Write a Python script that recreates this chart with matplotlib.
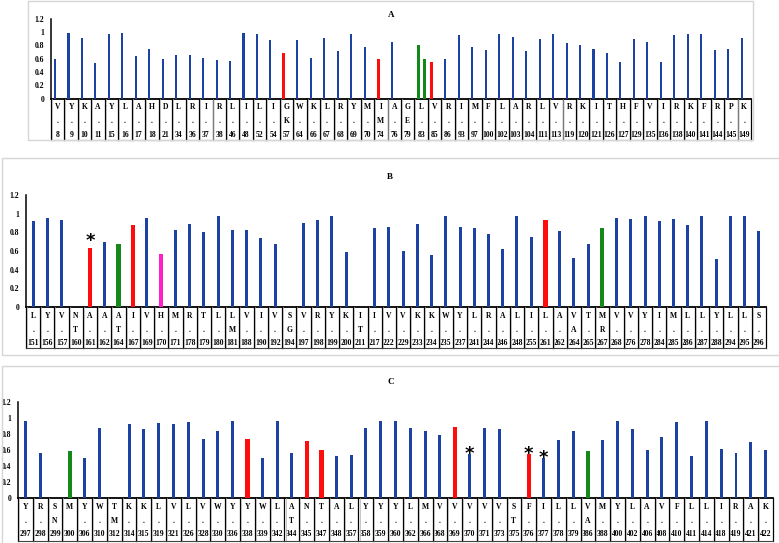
import matplotlib
matplotlib.use("Agg")
import matplotlib.pyplot as plt
from matplotlib.patches import Rectangle
from matplotlib.transforms import blended_transform_factory

# ---------------- data ----------------
a_labels = ['V|.|8', 'Y|.|9', 'K|.|10', 'A|.|11', 'Y|.|15', 'L|.|16', 'A|.|17', 'H|.|18', 'D|.|21',
            'L|.|34', 'R|.|36', 'I|.|37', 'R|.|38', 'L|.|46', 'I|.|48', 'L|.|52', 'I|.|54', 'G|K|57',
            'W|.|64', 'K|.|66', 'L|.|67', 'R|.|68', 'Y|.|69', 'M|.|70', 'I|M|74', 'A|.|76', 'G|E|79',
            'L|.|83', 'V|.|85', 'R|.|86', 'I|.|93', 'M|.|97', 'F|.|100', 'L|.|102', 'A|.|103', 'R|.|104',
            'L|.|111', 'V|.|113', 'R|.|119', 'K|.|120', 'I|.|121', 'T|.|126', 'H|.|127', 'F|.|129',
            'V|.|135', 'I|.|136', 'R|.|138', 'K|.|140', 'F|.|141', 'R|.|144', 'P|.|145', 'K|.|149']
a_values = [0.60, 0.98, 0.905, 0.54, 0.97, 0.98, 0.64, 0.74, 0.60, 0.65, 0.65, 0.61, 0.58, 0.57,
            0.98, 0.975, 0.875, 0.69, 0.875, 0.61, 0.905, 0.72, 0.965, 0.78, 0.59, 0.845, None,
            0.806, 0.55, 0.60, 0.95, 0.77, 0.73, 0.975, 0.92, 0.71, 0.895, 0.97, 0.83, 0.80, 0.74,
            0.68, 0.55, 0.89, 0.855, 0.55, 0.955, 0.97, 0.975, 0.73, 0.75, 0.915]
a_highlight = {'G|K|57': 'red', 'I|M|74': 'red', 'L|.|83': 'green', 'V|.|85': 'red'}
a_extra_labels = ['L|.|83']          # second bar drawn beside the category
a_extra_values = [0.59]
a_extra_colors = ['green']
a_stars = []

b_labels = ['L|.|151', 'Y|.|156', 'V|.|157', 'N|T|160', 'A|.|161', 'A|.|162', 'A|T|164', 'I|.|167',
            'V|.|169', 'H|.|170', 'M|.|171', 'R|.|178', 'T|.|179', 'L|.|180', 'L|M|181', 'V|.|188',
            'I|.|190', 'V|.|192', 'S|G|194', 'V|.|197', 'R|.|198', 'Y|.|199', 'K|.|200', 'I|T|211',
            'I|.|217', 'V|.|222', 'V|.|229', 'K|.|233', 'K|.|234', 'W|.|235', 'Y|.|237', 'L|.|241',
            'R|.|244', 'A|.|246', 'L|.|248', 'I|.|255', 'L|.|261', 'A|.|262', 'V|A|264', 'T|.|265',
            'M|R|267', 'V|.|268', 'V|.|276', 'Y|.|278', 'I|.|284', 'M|.|285', 'L|.|286', 'L|.|287',
            'Y|.|288', 'L|.|294', 'L|.|295', 'S|.|296']
b_values = [0.92, 0.957, 0.93, None, 0.63, 0.70, 0.68, 0.88, 0.95, 0.57, 0.83, 0.89, 0.80, 0.97,
            0.82, 0.82, 0.74, 0.675, None, 0.897, 0.93, 0.98, 0.594, None, 0.85, 0.86,
            0.60, 0.89, 0.56, 0.97, 0.86, 0.845, 0.78, 0.62, 0.97, 0.755, 0.93, 0.81, 0.52, 0.67,
            0.85, 0.957, 0.94, 0.975, 0.92, 0.947, 0.88, 0.97, 0.516, 0.975, 0.975, 0.81]
b_highlight = {'A|.|161': 'red', 'A|T|164': 'green', 'I|.|167': 'red', 'H|.|170': 'magenta',
               'L|.|261': 'red', 'M|R|267': 'green'}
b_stars = ['A|.|161']

c_labels = ['Y|.|297', 'R|.|298', 'S|N|299', 'M||300', 'Y|.|306', 'W|.|310', 'T|M|312', 'K|.|314',
            'K|.|315', 'L|.|319', 'V|.|321', 'L|.|326', 'V|.|328', 'W|.|330', 'Y|.|336', 'Y|.|338',
            'W|.|339', 'L|.|342', 'A|T|344', 'N|.|345', 'T|.|347', 'A|.|348', 'L|.|357', 'Y|.|358',
            'Y|.|359', 'Y|.|360', 'L|.|362', 'M|.|366', 'V|.|368', 'V|.|369', 'V|.|370', 'V|.|371',
            'V|.|373', 'S|T|375', 'F|.|376', 'I|.|377', 'L|.|378', 'L|.|379', 'V|A|386', 'M|.|388',
            'Y|.|400', 'L|.|402', 'A|.|406', 'V|.|408', 'F|.|410', 'L|.|411', 'L|.|414', 'I|.|418',
            'R|.|419', 'A|.|421', 'K|.|422']
c_values = [0.967, 0.56, None, 0.583, 0.50, 0.87, None, 0.92, 0.86, 0.933, 0.925, 0.946, 0.733,
            0.833, 0.967, 0.73, 0.50, 0.967, 0.56, 0.717, 0.596, 0.517, 0.53, 0.88, 0.967, 0.96,
            0.875, 0.84, 0.78, 0.89, 0.546, 0.88, 0.867, None, 0.554, 0.504, 0.72, 0.84, 0.583,
            0.72, 0.967, 0.86, 0.604, 0.76, 0.954, 0.52, 0.958, 0.61, 0.56, 0.70, 0.60]
c_highlight = {'M||300': 'green', 'Y|.|338': 'red', 'N|.|345': 'red', 'T|.|347': 'red',
               'V|.|369': 'red', 'F|.|376': 'red', 'V|A|386': 'green'}
c_stars = ['V|.|370', 'F|.|376', 'I|.|377']

y_ticks = [0, 0.2, 0.4, 0.6, 0.8, 1.0, 1.2]
y_tick_labels = ['0', '0.2', '0.4', '0.6', '0.8', '1', '1.2']

# ---------------- style ----------------
COLORS = {'blue': '#1c43a3', 'red': '#ff0d0d', 'green': '#14891a', 'magenta': '#ff1fc4'}
FONT = 'Liberation Serif'
W, H = 779, 543

fig = plt.figure(figsize=(W / 100, H / 100), dpi=100)
fig.patch.set_facecolor('white')


def frame(x0, y0, x1, y1):
    fig.patches.append(Rectangle((x0 / W, 1 - y1 / H), (x1 - x0) / W, (y1 - y0) / H,
                                 transform=fig.transFigure, fill=False,
                                 edgecolor='#d6d6d6', lw=1.0, zorder=0))


def panel(labels, values, highlight, stars, title, x0, x1, ytop, ybot, tbot, rows,
          offset, bw, hw, star_dy, extra=None):
    ax = fig.add_axes([x0 / W, 1 - ybot / H, (x1 - x0) / W, (ybot - ytop) / H])
    n = len(labels)
    hpix = ybot - ytop
    frac = lambda yp: (ybot - yp) / hpix
    for i, (lab, v) in enumerate(zip(labels, values)):
        if v is None:
            continue
        c = highlight.get(lab, 'blue')
        ax.bar(i + offset, v, width=hw if c != 'blue' else bw, color=COLORS[c],
               linewidth=0, zorder=3)
    if extra:
        for lab, v, c in zip(*extra):
            i = labels.index(lab)
            ax.bar(i + offset + 0.42, v, width=hw, color=COLORS[c], linewidth=0, zorder=3)
    for lab in stars:
        i = labels.index(lab)
        v = values[i]
        ax.annotate('*', (i + offset, v), xytext=(0, star_dy), textcoords='offset points',
                    ha='center', va='center', fontsize=13, fontweight='bold',
                    fontfamily='DejaVu Sans', zorder=5)
    ax.set_xlim(-0.5, n - 0.5)
    ax.set_ylim(0, 1.2)
    ax.set_yticks(y_ticks)
    ax.set_yticklabels(y_tick_labels, fontfamily=FONT, fontweight='bold', fontsize=5.5)
    ax.tick_params(axis='y', length=0, pad=5)
    ax.set_xticks([])
    for s in ['top', 'right']:
        ax.spines[s].set_visible(False)
    ax.spines['left'].set_linewidth(1.1)
    ax.spines['bottom'].set_linewidth(1.3)
    ax.patch.set_alpha(0)
    tr = blended_transform_factory(ax.transData, ax.transAxes)
    yb = frac(tbot)
    for k in range(n + 1):
        ax.plot([k - 0.5, k - 0.5], [0, yb], color='black', lw=0.9, transform=tr,
                clip_on=False, zorder=4)
        if k < n:
            ax.plot([k - 0.5 + 0.07, k - 0.5 + 0.07], [0, yb], color='#b0b0b0', lw=0.5,
                    transform=tr, clip_on=False, zorder=4)
    ax.plot([-0.5, n - 0.5], [yb, yb], color='#444444', lw=0.8, transform=tr,
            clip_on=False, zorder=4)
    for i, lab in enumerate(labels):
        parts = lab.split('|')
        for part, yp in zip(parts, rows):
            ax.text(i, frac(yp), part, transform=tr, ha='center', va='center',
                    fontfamily=FONT, fontweight='bold', fontsize=5.5, clip_on=False)
    fig.text(title[0] / W, 1 - title[1] / H, title[2], ha='center', va='center',
             fontfamily=FONT, fontweight='bold', fontsize=6.5)
    return ax


frame(28, 0.5, 753, 140)
frame(2, 158, 790, 355)
frame(2, 366, 790, 560)

panel(a_labels, a_values, a_highlight, a_stars, (391, 15, 'A'),
      51, 751, 18.7, 98.7, 140, [107, 121, 135], -0.2, 0.15, 0.22, 0,
      extra=(a_extra_labels, a_extra_values, a_extra_colors))
panel(b_labels, b_values, b_highlight, b_stars, (390, 177, 'B'),
      26, 766, 195, 307, 348, [315.7, 330, 343], 0.0, 0.21, 0.30, 5)
panel(c_labels, c_values, c_highlight, c_stars, (391, 382, 'C'),
      18, 773, 402, 497.7, 541, [506.7, 520.7, 534], 0.0, 0.20, 0.28, 0)

fig.savefig('out.png', dpi=100, facecolor='white')
